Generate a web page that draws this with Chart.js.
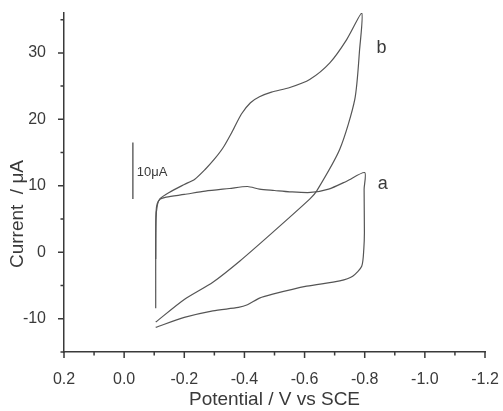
<!DOCTYPE html>
<html>
<head>
<meta charset="utf-8">
<script src="https://cdn.jsdelivr.net/npm/chart.js@4/dist/chart.umd.min.js"></script>
<style>
  html, body { margin: 0; padding: 0; background: #fff; }
  #wrap { width: 503px; height: 411px; }
</style>
</head>
<body>
<div id="wrap"><canvas id="cv"></canvas></div>
<script>
// curve a (forward scan then return)
const aPotential = [-0.105, -0.105, -0.106, -0.11, -0.12, -0.14, -0.2, -0.27, -0.35, -0.41, -0.45, -0.5, -0.55, -0.62, -0.68, -0.74, -0.8,
    -0.798, -0.799, -0.797, -0.79, -0.76, -0.717, -0.607, -0.494, -0.45, -0.41, -0.38, -0.295, -0.2, -0.105];
const aCurrent = [-8.4, 2, 6, 7.3, 8.0, 8.3, 8.7, 9.2, 9.6, 9.9, 9.5, 9.3, 9.1, 9.0, 9.5, 10.7, 12,
    9.5, 3, 0.5, -2.1, -3.6, -4.3, -5.1, -6.3, -6.9, -7.9, -8.3, -8.8, -9.8, -11.3];

// curve b
const bPotential = [-0.105, -0.106, -0.11, -0.118, -0.15, -0.2, -0.235, -0.27, -0.3, -0.33, -0.36, -0.39, -0.42, -0.45, -0.49, -0.551, -0.617, -0.684, -0.74, -0.79,
    -0.783, -0.767, -0.717, -0.64, -0.617, -0.494, -0.385, -0.295, -0.2, -0.105];
const bCurrent = [-1, 5, 7, 8, 9, 10.2, 11, 12.5, 14, 15.8, 18.2, 20.8, 22.5, 23.4, 24.1, 24.8, 26, 28.5, 32, 36,
    30.5, 23, 15.5, 9.2, 8, 3, -1.3, -4.5, -7.1, -10.5];

const xTicks = [0.2, 0.0, -0.2, -0.4, -0.6, -0.8, -1.0, -1.2];
const xMinor = [0.1, -0.1, -0.3, -0.5, -0.7, -0.9, -1.1];
const yTicks = [-10, 0, 10, 20, 30];
const yMinor = [-15, -5, 5, 15, 25, 35];

// curve labels and the 10 µA scale bar (data coords)
const curveLabels = [{ text: "b", x: -0.856, y: 30.8 }, { text: "a", x: -0.86, y: 10.2 }];
const scaleBar = { x: -0.029, y0: 8, y1: 16.5, text: "10\u03bcA" };

const ink = "#3a3a3a";
const lineColor = "#555";

function toPoints(xs, ys) {
    return xs.map((x, i) => ({ x: x, y: ys[i] }));
}

// draws ticks, titles, labels and the scale bar
const extras = {
    id: "extras",
    afterDraw(chart) {
        const ctx = chart.ctx;
        const xs = chart.scales.x, ys = chart.scales.y;
        const area = chart.chartArea;
        ctx.save();
        ctx.strokeStyle = ink;
        ctx.lineWidth = 1.5;
        ctx.beginPath();
        xTicks.forEach(v => { const p = xs.getPixelForValue(v); ctx.moveTo(p, area.bottom); ctx.lineTo(p, area.bottom + 6); });
        xMinor.forEach(v => { const p = xs.getPixelForValue(v); ctx.moveTo(p, area.bottom); ctx.lineTo(p, area.bottom + 3.5); });
        yTicks.forEach(v => { const p = ys.getPixelForValue(v); ctx.moveTo(area.left, p); ctx.lineTo(area.left - 6, p); });
        yMinor.forEach(v => { const p = ys.getPixelForValue(v); ctx.moveTo(area.left, p); ctx.lineTo(area.left - 3.5, p); });
        ctx.stroke();

        // scale bar
        ctx.strokeStyle = "#666";
        ctx.lineWidth = 1.5;
        const bx = xs.getPixelForValue(scaleBar.x);
        ctx.beginPath();
        ctx.moveTo(bx, ys.getPixelForValue(scaleBar.y0));
        ctx.lineTo(bx, ys.getPixelForValue(scaleBar.y1));
        ctx.stroke();

        ctx.fillStyle = ink;
        ctx.font = "13px 'Liberation Sans', Arial, sans-serif";
        ctx.textBaseline = "middle";
        ctx.textAlign = "left";
        ctx.fillText(scaleBar.text, bx + 4, ys.getPixelForValue((scaleBar.y0 + scaleBar.y1) / 2) + 2);

        ctx.font = "18px 'Liberation Sans', Arial, sans-serif";
        ctx.textAlign = "center";
        curveLabels.forEach(l => ctx.fillText(l.text, xs.getPixelForValue(l.x), ys.getPixelForValue(l.y)));

        // axis titles
        ctx.font = "19px 'Liberation Sans', Arial, sans-serif";
        ctx.fillText("Potential / V vs SCE", (area.left + area.right) / 2, 400);
        ctx.translate(18, 214);
        ctx.rotate(-Math.PI / 2);
        ctx.fillText("Current  / \u03bcA", 0, 0);
        ctx.restore();
    }
};

new Chart(document.getElementById("cv"), {
    type: "line",
    data: {
        datasets: [
            { label: "a", data: toPoints(aPotential, aCurrent) },
            { label: "b", data: toPoints(bPotential, bCurrent) }
        ]
    },
    options: {
        responsive: true,
        maintainAspectRatio: false,
        animation: false,
        layout: { padding: { top: 13, right: 18, left: 0, bottom: 0 } },
        elements: {
            line: { borderColor: lineColor, borderWidth: 1.2, tension: 0.25, fill: false },
            point: { radius: 0 }
        },
        plugins: { legend: { display: false }, tooltip: { enabled: false } },
        scales: {
            x: {
                type: "linear",
                reverse: true,
                min: -1.2,
                max: 0.2,
                grid: { display: false },
                border: { color: ink, width: 1.5 },
                afterBuildTicks: s => { s.ticks = xTicks.map(v => ({ value: v })); },
                afterFit: s => { s.height = 59; s.paddingLeft = 0; s.paddingRight = 0; },
                ticks: {
                    color: ink,
                    padding: 10,
                    maxRotation: 0,
                    font: { size: 16, family: "'Liberation Sans', Arial, sans-serif" },
                    callback: v => (Math.abs(v) < 1e-9 ? 0 : v).toFixed(1)
                }
            },
            y: {
                min: -15,
                max: 36,
                grid: { display: false },
                border: { color: ink, width: 1.5 },
                afterBuildTicks: s => { s.ticks = yTicks.map(v => ({ value: v })); },
                afterFit: s => { s.width = 64; s.paddingTop = 0; s.paddingBottom = 0; },
                ticks: {
                    color: ink,
                    padding: 10,
                    font: { size: 16, family: "'Liberation Sans', Arial, sans-serif" }
                }
            }
        }
    },
    plugins: [extras]
});
</script>
</body>
</html>
